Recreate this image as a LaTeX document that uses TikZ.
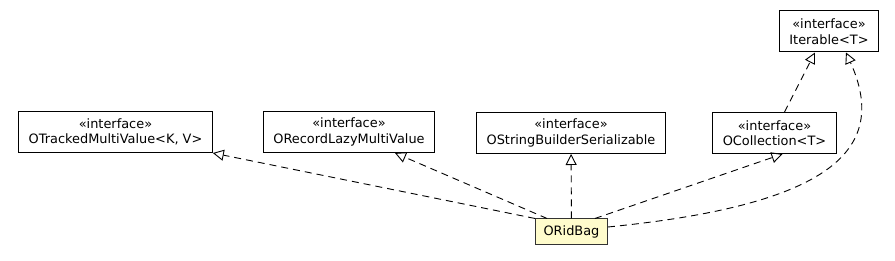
\documentclass[tikz,border=0pt]{standalone}
\usepackage{fontspec}
\setmainfont{DejaVu Sans}
\usetikzlibrary{arrows.meta}

\begin{document}
\begin{tikzpicture}[x=1pt, y=-1pt, every node/.style={font=\fontsize{12.9}{15.5}\selectfont},
	iface/.style={draw=black, line width=1pt, align=center, inner xsep=10pt, inner ysep=4pt, minimum height=41pt},
	cls/.style={draw=black!80, line width=1pt, fill=yellow!20, inner xsep=8pt, minimum height=26pt},
	impl/.style={dashed, dash pattern=on 7pt off 5pt, line width=0.9pt, -{Triangle[open,length=11pt,width=11pt]}}]
	\useasboundingbox (0,0) rectangle (895,261);
	\node[iface] (iter) at (829,31.5) {«interface»\\Iterable<T>};
	\node[iface] (tracked) at (115.5,132) {«interface»\\OTrackedMultiValue<K, V>};
	\node[iface] (lazy) at (349,132) {«interface»\\ORecordLazyMultiValue};
	\node[iface] (sbser) at (571,133) {«interface»\\OStringBuilderSerializable};
	\node[iface] (coll) at (774.5,133) {«interface»\\OCollection<T>};
	\node[cls] (ridbag) at (571.5,232) {ORidBag};
	% realizations
	\draw[impl] (ridbag.north west) -- (tracked.south east);
	\draw[impl] ([xshift=12pt]ridbag.north west) -- ([xshift=46pt]lazy.south);
	\draw[impl] (ridbag) -- (sbser);
	\draw[impl] ([xshift=-13pt]ridbag.north east) -- ([xshift=8pt]coll.south);
	\draw[impl] ([xshift=10pt]coll.north) -- ([xshift=-14pt]iter.south);
	\draw[impl] ([yshift=5pt]ridbag.east) .. controls (830,205) and (890,150) .. ([xshift=17pt]iter.south);
\end{tikzpicture}
\end{document}
